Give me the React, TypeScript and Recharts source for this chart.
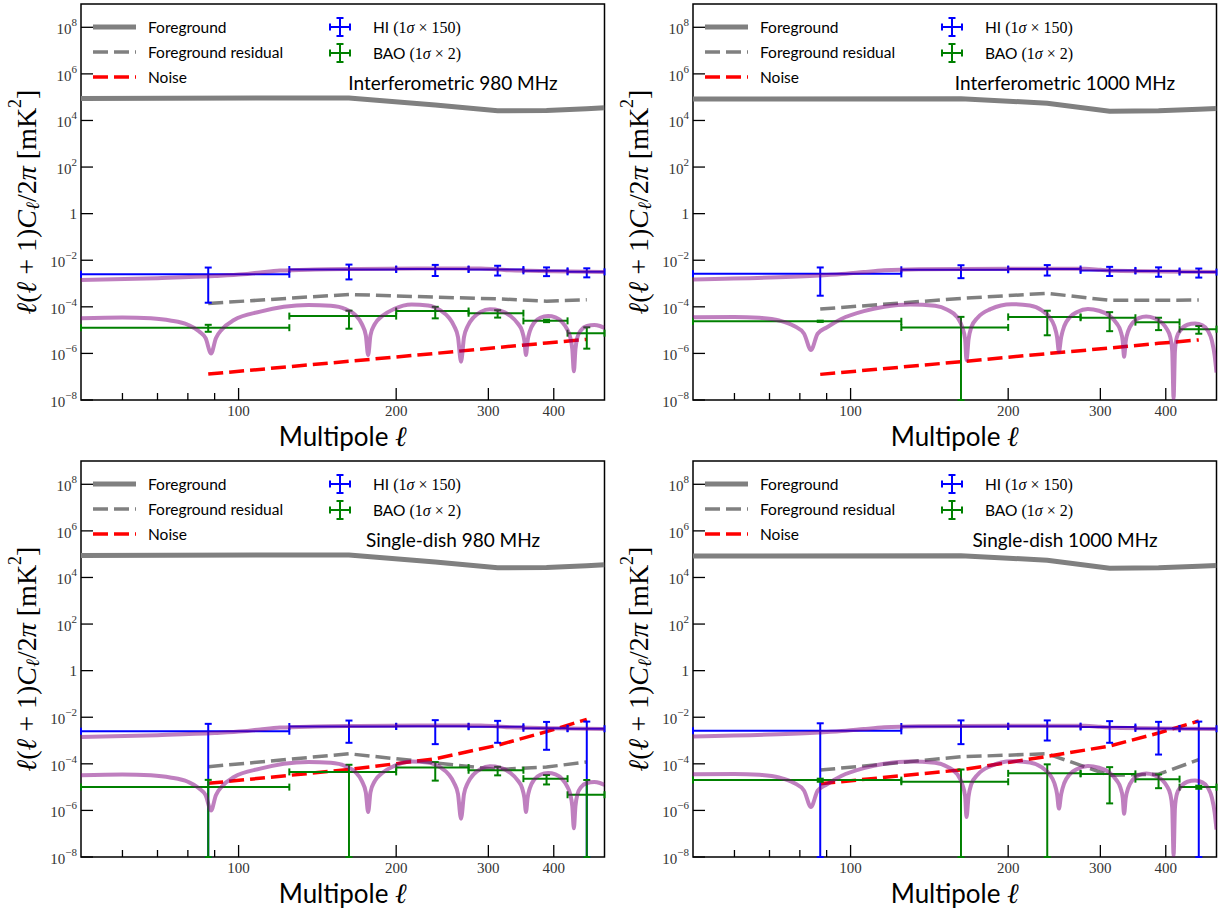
import React from "react";
import { ComposedChart, Line, Scatter, ErrorBar, XAxis, YAxis, ReferenceArea } from "recharts";

// multipole bins: centres and half width
const BIN_L = [87.5, 162.5, 237.5, 312.5, 387.5, 462.5];
const BIN_HALF = 37.5;

const X_DOMAIN = [50, 500];
const Y_DOMAIN = [1e-8, 1e9];
const X_TICKS = [60, 70, 80, 90, 100, 200, 300, 400];
const X_LABELED = [100, 200, 300, 400];
const Y_TICKS = [1e-8, 1e-6, 1e-4, 1e-2, 1, 1e2, 1e4, 1e6, 1e8];

// foreground
const FG_L = [50, 162.5, 237.5, 312.5, 387.5, 462.5, 500];
const FG_980 = [8.8e4, 9.3e4, 4.6e4, 2.6e4, 2.7e4, 3.2e4, 3.5e4];
const FG_1000 = [8.3e4, 8.6e4, 5.5e4, 2.5e4, 2.6e4, 3.0e4, 3.3e4];

// foreground residual (at bin centres)
const RES_INT_980 = [1.4e-4, 3.4e-4, 2.6e-4, 2.2e-4, 1.75e-4, 2.0e-4];
const RES_INT_1000 = [8e-5, 2.3e-4, 3.8e-4, 1.9e-4, 1.9e-4, 1.95e-4];
const RES_SD_980 = [7.5e-5, 2.7e-4, 1.1e-4, 5.7e-5, 7.3e-5, 1.2e-4];
const RES_SD_1000 = [5.4e-5, 2.0e-4, 2.7e-4, 3.2e-5, 3.6e-5, 1.5e-4];

// noise
const NOISE_INT_980 = [1.3e-7, 4.6e-7, 1.0e-6, 1.8e-6, 2.8e-6, 4.0e-6];
const NOISE_INT_1000 = [1.26e-7, 4.4e-7, 9.8e-7, 1.7e-6, 2.7e-6, 3.8e-6];
const NOISE_SD_980 = [1.45e-5, 5.7e-5, 1.65e-4, 6.3e-4, 2.4e-3, 8.1e-3];
const NOISE_SD_1000 = [1.4e-5, 5.5e-5, 2.1e-4, 5.8e-4, 2.1e-3, 6.9e-3];

// HI band powers and 1 sigma (x150)
const HI_INT_980 = [2.5e-3, 4.0e-3, 4.2e-3, 4.0e-3, 3.5e-3, 3.17e-3];
const HI_INT_980_ERR = [2.35e-3, 2.5e-3, 2.1e-3, 1.8e-3, 1.42e-3, 1.33e-3];
const HI_INT_1000 = [2.6e-3, 3.9e-3, 4.2e-3, 3.65e-3, 3.45e-3, 3.1e-3];
const HI_INT_1000_ERR = [2.3e-3, 2.2e-3, 2.0e-3, 1.55e-3, 1.5e-3, 1.3e-3];
const HI_SD_980 = [2.5e-3, 4.0e-3, 4.1e-3, 3.9e-3, 3.35e-3, 3.2e-3];
const HI_SD_980_ERR = [2.7e-3, 3.2e-3, 3.4e-3, 3.1e-3, 2.95e-3, 3.3e-3];
const HI_SD_1000 = [2.6e-3, 4.0e-3, 4.15e-3, 3.8e-3, 3.3e-3, 3.2e-3];
const HI_SD_1000_ERR = [2.9e-3, 3.3e-3, 3.15e-3, 3.0e-3, 3.05e-3, 3.3e-3];

// BAO band powers and 1 sigma (x2)
const BAO_INT_980 = [1.27e-5, 4.0e-5, 6.6e-5, 5.3e-5, 2.5e-5, 7.4e-6];
const BAO_INT_980_ERR = [4.2e-6, 2.85e-5, 3.4e-5, 1.85e-5, 3e-6, 5.8e-6];
const BAO_INT_1000 = [2.4e-5, 1.3e-5, 3.7e-5, 3.4e-5, 2.2e-5, 1.1e-5];
const BAO_INT_1000_ERR = [1.5e-6, 2.4e-5, 3.1e-5, 2.5e-5, 1.2e-5, 4e-6];
const BAO_SD_980 = [1.0e-5, 4.5e-5, 6.9e-5, 5.3e-5, 2.3e-5, 4.7e-6];
const BAO_SD_980_ERR = [1.05e-5, 4.6e-5, 5.0e-5, 2.1e-5, 1.0e-5, 1.55e-5];
const BAO_SD_1000 = [2.0e-5, 1.7e-5, 3.9e-5, 3.7e-5, 2.2e-5, 1.0e-5];
const BAO_SD_1000_ERR = [3e-6, 4.0e-5, 5.6e-5, 3.5e-5, 1.3e-5, 1.5e-6];

// theory curves [l, value]
const TH_HI_980: [number, number][] = [
  [50, 1.4e-3], [70, 1.7e-3], [90, 2.1e-3], [102, 2.5e-3], [110, 3.0e-3], [120, 3.6e-3],
  [140, 4.0e-3], [170, 4.2e-3], [220, 4.4e-3], [290, 4.4e-3], [310, 4.1e-3], [330, 3.7e-3],
  [400, 3.4e-3], [500, 3.1e-3],
];
const TH_HI_1000: [number, number][] = [
  [50, 1.5e-3], [70, 1.8e-3], [87, 2.2e-3], [98, 2.6e-3], [106, 3.1e-3], [116, 3.7e-3],
  [135, 4.1e-3], [200, 4.3e-3], [280, 4.3e-3], [300, 3.9e-3], [320, 3.5e-3], [400, 3.3e-3],
  [500, 3.1e-3],
];
const TH_BAO_980: [number, number][] = [
  [50, 3.2e-5], [60, 3.5e-5], [68, 3.2e-5], [74, 2.6e-5], [80, 1.7e-5], [84, 9e-6],
  [86.5, 4.5e-6], [88.6, 1.0e-6], [90.5, 4.5e-6], [93, 1.1e-5], [98, 2.7e-5], [110, 6.2e-5],
  [122, 1.0e-4], [136, 1.2e-4], [150, 1.1e-4], [160, 8e-5], [167, 4.5e-5], [172, 1.8e-5],
  [175, 6e-6], [176.8, 8.5e-7], [178.6, 6e-6], [182, 1.8e-5], [188, 4e-5], [198, 8e-5],
  [214, 1.25e-4], [230, 1.15e-4], [243, 7e-5], [252, 3.5e-5], [258, 1.5e-5], [262.5, 5e-6],
  [266, 4.4e-7], [269.5, 5e-6], [274, 1.5e-5], [281, 3.5e-5], [290, 6e-5], [302, 7.8e-5],
  [316, 6.8e-5], [330, 4.2e-5], [341, 2e-5], [348, 9e-6], [351.5, 3.5e-6], [354, 8.5e-7],
  [356.5, 3.5e-6], [360, 9e-6], [367, 2.1e-5], [377, 3.4e-5], [390, 4e-5], [403, 3.5e-5],
  [415, 2.2e-5], [424, 1.1e-5], [430, 5e-6], [434, 1.5e-6], [437, 1.7e-7], [440, 1.5e-6],
  [444, 5e-6], [451, 1e-5], [463, 1.5e-5], [478, 1.65e-5], [490, 1.5e-5], [500, 1.25e-5],
];
const TH_BAO_1000: [number, number][] = [
  [50, 3.6e-5], [60, 3.7e-5], [67, 3.4e-5], [73, 2.6e-5], [78, 1.5e-5], [81.5, 7e-6],
  [84, 1.4e-6], [86.5, 7e-6], [90, 1.3e-5], [96, 3e-5], [106, 6.5e-5], [116, 1.0e-4],
  [130, 1.25e-4], [145, 1.1e-4], [153, 7.5e-5], [160, 3.5e-5], [163.5, 1.3e-5], [165.5, 4e-6],
  [166.5, 5.2e-7], [168, 4e-6], [170, 1.3e-5], [175, 3.5e-5], [185, 8e-5], [203, 1.3e-4],
  [220, 1.15e-4], [232, 7e-5], [240, 3.5e-5], [245, 1.5e-5], [248, 5e-6], [250, 1.2e-6],
  [252.5, 5e-6], [256, 1.5e-5], [262, 3.5e-5], [271, 6e-5], [284, 8e-5], [298, 6.8e-5],
  [312, 4.2e-5], [322, 2e-5], [328, 9e-6], [331, 3.5e-6], [333, 7.2e-7], [335.5, 3.5e-6],
  [339, 9e-6], [346, 2.1e-5], [355, 3.3e-5], [367, 3.8e-5], [380, 3.3e-5], [393, 2.1e-5],
  [402, 1.1e-5], [408, 5e-6], [411.5, 1.3e-6], [414, 1.2e-8], [416.5, 1.3e-6], [420, 5e-6],
  [427, 1e-5], [440, 1.7e-5], [455, 1.9e-5], [470, 1.6e-5], [482, 9e-6], [490, 3.5e-6],
  [496, 8e-7], [500, 1.5e-7],
];

const PANELS = [
  { title: "Interferometric 980 MHz", fg: FG_980, res: RES_INT_980, noise: NOISE_INT_980, hi: HI_INT_980, hiErr: HI_INT_980_ERR, bao: BAO_INT_980, baoErr: BAO_INT_980_ERR, thHi: TH_HI_980, thBao: TH_BAO_980 },
  { title: "Interferometric 1000 MHz", fg: FG_1000, res: RES_INT_1000, noise: NOISE_INT_1000, hi: HI_INT_1000, hiErr: HI_INT_1000_ERR, bao: BAO_INT_1000, baoErr: BAO_INT_1000_ERR, thHi: TH_HI_1000, thBao: TH_BAO_1000 },
  { title: "Single-dish 980 MHz", fg: FG_980, res: RES_SD_980, noise: NOISE_SD_980, hi: HI_SD_980, hiErr: HI_SD_980_ERR, bao: BAO_SD_980, baoErr: BAO_SD_980_ERR, thHi: TH_HI_980, thBao: TH_BAO_980 },
  { title: "Single-dish 1000 MHz", fg: FG_1000, res: RES_SD_1000, noise: NOISE_SD_1000, hi: HI_SD_1000, hiErr: HI_SD_1000_ERR, bao: BAO_SD_1000, baoErr: BAO_SD_1000_ERR, thHi: TH_HI_1000, thBao: TH_BAO_1000 },
];

const SERIF = '"Liberation Serif", "DejaVu Serif", serif';
const SANS = 'Lato, "Open Sans", sans-serif';
const GRAY = "#808080";
const DASH = "15 6";
const W = 613;
const H = 457;
const MARGIN = { top: 4, right: 8.5, left: 11, bottom: 17 };
const TICK_GAP = 4;

const pts = (ls: number[], vs: number[]) => ls.map((l, i) => ({ l, v: vs[i] }));
const pairs = (p: [number, number][]) => p.map(([l, v]) => ({ l, v }));
// log axis: a bar whose lower end is <= 0 runs down to the bottom of the axes
const errPts = (vs: number[], es: number[]) =>
  BIN_L.map((l, i) => ({
    l,
    v: vs[i],
    ex: BIN_HALF,
    ey: [es[i] >= vs[i] ? vs[i] - Y_DOMAIN[0] : es[i], es[i]],
  }));

const YTick = (props: any) => {
  const { x, y, payload } = props;
  const ax = x + TICK_GAP;
  const exp = Math.round(Math.log10(payload.value));
  return (
    <g>
      <line x1={ax} x2={ax + 12} y1={y} y2={y} stroke="#000" strokeWidth={1.3} />
      {exp === 0 ? (
        <text x={x} y={y + 5} textAnchor="end" fontFamily={SERIF} fontSize={15} fill="#333">1</text>
      ) : (
        <text x={x} y={y + 7} textAnchor="end" fontFamily={SERIF} fontSize={15} fill="#333">
          10<tspan dy={-8} fontSize={11}>{exp < 0 ? "\u2212" + -exp : exp}</tspan>
        </text>
      )}
    </g>
  );
};

const XTick = (props: any) => {
  const { x, y, payload } = props;
  const ay = y - TICK_GAP;
  const major = X_LABELED.includes(payload.value);
  return (
    <g>
      <line x1={x} x2={x} y1={ay} y2={ay - (major ? 12 : 7)} stroke="#000" strokeWidth={1.3} />
      {major && (
        <text x={x} y={ay + 16} textAnchor="middle" fontFamily={SERIF} fontSize={15} fill="#333">
          {payload.value}
        </text>
      )}
    </g>
  );
};

const YLabel = (props: any) => {
  const vb = props.viewBox;
  const cx = vb.x + 15;
  const cy = vb.y + vb.height / 2;
  return (
    <text x={cx} y={cy} transform={`rotate(-90 ${cx} ${cy})`} textAnchor="middle" dominantBaseline="central" fontFamily={SERIF} fontSize={28} fill="#000">
      <tspan fontStyle="italic">ℓ</tspan>(<tspan fontStyle="italic">ℓ</tspan> + 1)<tspan fontStyle="italic">C</tspan>
      <tspan fontStyle="italic" fontSize={19} dy={6}>ℓ</tspan>
      <tspan dy={-6}>/2</tspan><tspan fontStyle="italic">π</tspan> [mK<tspan fontSize={18} dy={-11}>2</tspan><tspan dy={11}>]</tspan>
    </text>
  );
};

const XLabel = (props: any) => {
  const vb = props.viewBox;
  return (
    <text x={vb.x + vb.width / 2} y={vb.y + 46} textAnchor="middle" fontFamily={SANS} fontSize={26} fill="#000">
      Multipole <tspan fontFamily={SERIF} fontStyle="italic" fontSize={28}>ℓ</tspan>
    </text>
  );
};

const ErrHandle = ({ cx, cy, color }: { cx: number; cy: number; color: string }) => (
  <g stroke={color} strokeWidth={2}>
    <line x1={cx - 10} x2={cx + 10} y1={cy} y2={cy} />
    <line x1={cx - 10} x2={cx - 10} y1={cy - 3.5} y2={cy + 3.5} />
    <line x1={cx + 10} x2={cx + 10} y1={cy - 3.5} y2={cy + 3.5} />
    <line x1={cx} x2={cx} y1={cy - 9} y2={cy + 9} />
    <line x1={cx - 3.5} x2={cx + 3.5} y1={cy - 9} y2={cy - 9} />
    <line x1={cx - 3.5} x2={cx + 3.5} y1={cy + 9} y2={cy + 9} />
  </g>
);

const PanelLegend = ({ title }: { title: string }) => (
  <svg width={523} height={100} style={{ position: "absolute", left: 81, top: 4, pointerEvents: "none" }}>
    <line x1={12} x2={55} y1={23} y2={23} stroke={GRAY} strokeWidth={5} />
    <line x1={12} x2={55} y1={48} y2={48} stroke={GRAY} strokeWidth={3.5} strokeDasharray={DASH} />
    <line x1={12} x2={55} y1={73} y2={73} stroke="#ff0000" strokeWidth={3.5} strokeDasharray={DASH} />
    <g fontFamily={SANS} fontSize={15.5} fill="#000">
      <text x={67} y={28.5}>Foreground</text>
      <text x={67} y={53.5}>Foreground residual</text>
      <text x={67} y={78.5}>Noise</text>
    </g>
    <ErrHandle cx={259} cy={23} color="#0000ff" />
    <ErrHandle cx={259} cy={49} color="#008000" />
    <g fontFamily={SANS} fontSize={15.5} fill="#000">
      <text x={292} y={28.5}>HI <tspan fontFamily={SERIF} fontSize={16}>(1<tspan fontStyle="italic">σ</tspan> × 150)</tspan></text>
      <text x={292} y={54.5}>BAO <tspan fontFamily={SERIF} fontSize={16}>(1<tspan fontStyle="italic">σ</tspan> × 2)</tspan></text>
    </g>
    <text x={372} y={86} textAnchor="middle" fontFamily={SANS} fontSize={19} fill="#000">{title}</text>
  </svg>
);

const Panel = ({ cfg, left, top }: { cfg: (typeof PANELS)[number]; left: number; top: number }) => (
  <div style={{ position: "absolute", left, top, width: W, height: H }}>
    <ComposedChart width={W} height={H} margin={MARGIN}>
      <XAxis dataKey="l" type="number" scale="log" domain={X_DOMAIN} allowDataOverflow ticks={X_TICKS} interval={0}
        tick={XTick} tickSize={0} tickMargin={TICK_GAP} axisLine={false} tickLine={false} height={40} label={{ content: XLabel }} />
      <YAxis type="number" scale="log" domain={Y_DOMAIN} allowDataOverflow ticks={Y_TICKS} interval={0}
        tick={YTick} tickSize={0} tickMargin={TICK_GAP} axisLine={false} tickLine={false} width={70} label={{ content: YLabel }} />
      <Line data={pts(FG_L, cfg.fg)} dataKey="v" type="linear" stroke={GRAY} strokeWidth={5} dot={false} isAnimationActive={false} />
      <Line data={pts(BIN_L, cfg.res)} dataKey="v" type="linear" stroke={GRAY} strokeWidth={3.5} strokeDasharray={DASH} dot={false} isAnimationActive={false} />
      <Line data={pts(BIN_L, cfg.noise)} dataKey="v" type="linear" stroke="#ff0000" strokeWidth={3.5} strokeDasharray={DASH} dot={false} isAnimationActive={false} />
      <Scatter data={errPts(cfg.hi, cfg.hiErr)} dataKey="v" shape={() => <g />} isAnimationActive={false}>
        <ErrorBar dataKey="ex" direction="x" width={3.5} stroke="#0000ff" strokeWidth={2} isAnimationActive={false} />
        <ErrorBar dataKey="ey" direction="y" width={3.5} stroke="#0000ff" strokeWidth={2} isAnimationActive={false} />
      </Scatter>
      <Scatter data={errPts(cfg.bao, cfg.baoErr)} dataKey="v" shape={() => <g />} isAnimationActive={false}>
        <ErrorBar dataKey="ex" direction="x" width={3.5} stroke="#008000" strokeWidth={2} isAnimationActive={false} />
        <ErrorBar dataKey="ey" direction="y" width={3.5} stroke="#008000" strokeWidth={2} isAnimationActive={false} />
      </Scatter>
      <Line data={pairs(cfg.thHi)} dataKey="v" type="monotone" stroke="#800080" strokeOpacity={0.5} strokeWidth={4} dot={false} isAnimationActive={false} />
      <Line data={pairs(cfg.thBao)} dataKey="v" type="monotone" stroke="#800080" strokeOpacity={0.5} strokeWidth={4} dot={false} isAnimationActive={false} />
      <ReferenceArea x1={X_DOMAIN[0]} x2={X_DOMAIN[1]} y1={Y_DOMAIN[0]} y2={Y_DOMAIN[1]} fill="none" stroke="#000" strokeWidth={1.5} ifOverflow="visible" />
    </ComposedChart>
    <PanelLegend title={cfg.title} />
  </div>
);

export default function App() {
  return (
    <div style={{ position: "absolute", left: 0, top: 0, width: 1226, height: 911, background: "#fff" }}>
      <Panel cfg={PANELS[0]} left={0} top={0} />
      <Panel cfg={PANELS[1]} left={612} top={0} />
      <Panel cfg={PANELS[2]} left={0} top={457} />
      <Panel cfg={PANELS[3]} left={612} top={457} />
    </div>
  );
}
